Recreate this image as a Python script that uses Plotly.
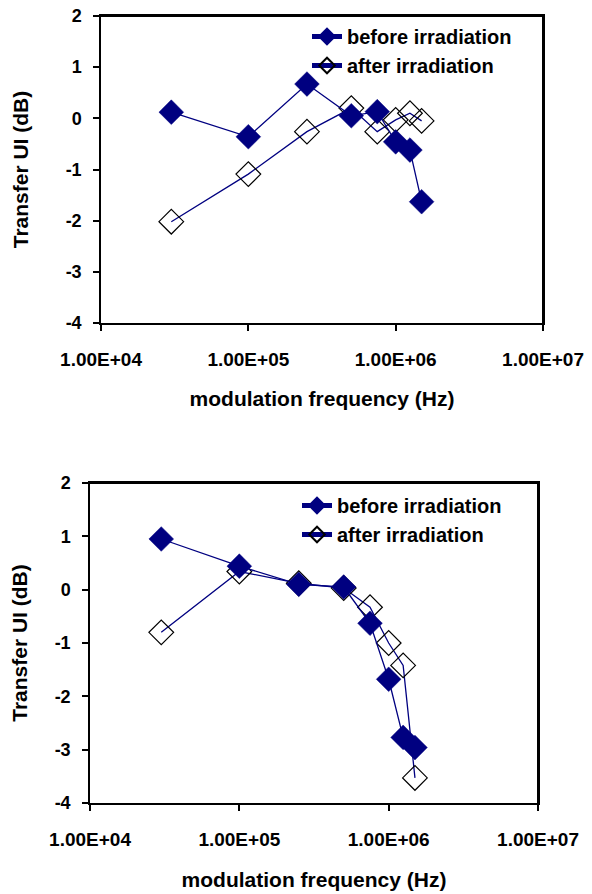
import plotly.graph_objects as go

# ---- data ----
freq = [3e4, 1e5, 2.5e5, 5e5, 7.5e5, 1e6, 1.25e6, 1.5e6]
top_before = [0.12, -0.36, 0.67, 0.05, 0.13, -0.46, -0.62, -1.63]
top_after = [-2.02, -1.09, -0.26, 0.2, -0.26, -0.03, 0.1, -0.05]
bot_before = [0.95, 0.44, 0.1, 0.05, -0.63, -1.68, -2.77, -2.96]
bot_after = [-0.8, 0.34, 0.12, 0.03, -0.33, -1.0, -1.42, -3.53]

x_tickvals = [1e4, 1e5, 1e6, 1e7]
x_ticktext = ["1.00E+04", "1.00E+05", "1.00E+06", "1.00E+07"]
y_tickvals = [2, 1, 0, -1, -2, -3, -4]
y_ticktext = ["2", "1", "0", "-1", "-2", "-3", "-4"]

series_names = ["before irradiation", "after irradiation"]
x_title = "modulation frequency (Hz)"
y_title = "Transfer UI (dB)"

NAVY = "#000080"
FONT = "Liberation Sans, Arial, sans-serif"
# page body has an 8px margin, so the figure is drawn 8px in from the window corner
OFF = 8
W, H = 592 - OFF, 894 - OFF

def fx(px):
    return (px - OFF) / W

def fy(py):
    return 1 - (py - OFF) / H

fig = go.Figure()

def add_pair(before, after, xa, ya, leg):
    fig.add_trace(go.Scatter(
        x=freq, y=after, mode="lines+markers", name=series_names[1],
        xaxis=xa, yaxis=ya, legend=leg, legendrank=2,
        line=dict(color=NAVY, width=1.3),
        marker=dict(symbol="diamond-open", size=19, color="black",
                    line=dict(color="black", width=1.2)),
    ))
    fig.add_trace(go.Scatter(
        x=freq, y=before, mode="lines+markers", name=series_names[0],
        xaxis=xa, yaxis=ya, legend=leg, legendrank=1,
        line=dict(color=NAVY, width=1.3),
        marker=dict(symbol="diamond", size=19, color=NAVY,
                    line=dict(color=NAVY, width=0.5)),
    ))

add_pair(top_before, top_after, "x", "y", "legend")
add_pair(bot_before, bot_after, "x2", "y2", "legend2")

def xax(domain, anchor, standoff):
    return dict(
        type="log", range=[4, 7], domain=domain, anchor=anchor,
        automargin=False,
        tickvals=x_tickvals, ticktext=x_ticktext,
        ticks="outside", ticklen=6, tickwidth=1.5, tickcolor="black",
        showline=True, linecolor="black", linewidth=1.5, mirror=True,
        showgrid=False, zeroline=False,
        ticklabelstandoff=12, ticklabeloverflow="allow",
        tickfont=dict(family=FONT, size=19, color="black", weight="bold"),
        title=dict(text=x_title, standoff=standoff,
                   font=dict(family=FONT, size=21, color="black", weight="bold")),
    )

def yax(domain, anchor, standoff):
    return dict(
        range=[-4, 2], domain=domain, anchor=anchor,
        automargin=False,
        tickvals=y_tickvals, ticktext=y_ticktext,
        ticks="outside", ticklen=6, tickwidth=1.5, tickcolor="black",
        showline=True, linecolor="black", linewidth=1.5, mirror=True,
        showgrid=False, zeroline=False,
        ticklabelstandoff=8, ticklabeloverflow="allow",
        tickfont=dict(family=FONT, size=18, color="black", weight="bold"),
        title=dict(text=y_title, standoff=standoff,
                   font=dict(family=FONT, size=21, color="black", weight="bold")),
    )

legfont = dict(family=FONT, size=20, color="black", weight="bold")

xdom1, ydom1 = [fx(101), fx(543)], [fy(323), fy(16)]
xdom2, ydom2 = [fx(90), fx(538)], [fy(803), fy(483)]

# plot-area frames: top and right edges, in paper coordinates (not clipped)
frames = []
for xd, yd in ((xdom1, ydom1), (xdom2, ydom2)):
    frames.append(dict(type="line", xref="paper", yref="paper",
                       x0=xd[0], x1=xd[1], y0=yd[1], y1=yd[1],
                       line=dict(color="black", width=2), layer="above"))
    frames.append(dict(type="line", xref="paper", yref="paper",
                       x0=xd[1], x1=xd[1], y0=yd[0], y1=yd[1],
                       line=dict(color="black", width=2), layer="above"))

fig.update_layout(
    width=W, height=H,
    margin=dict(l=0, r=0, t=0, b=0, autoexpand=False),
    paper_bgcolor="white", plot_bgcolor="white",
    xaxis=xax(xdom1, "y", 23),
    yaxis=yax(ydom1, "x", 31),
    xaxis2=xax(xdom2, "y2", 24),
    yaxis2=yax(ydom2, "x2", 33),
    legend=dict(x=299 / W, y=1 - 9 / H, xanchor="left", yanchor="top",
                bgcolor="rgba(0,0,0,0)", font=legfont, itemsizing="constant"),
    legend2=dict(x=289 / W, y=1 - 478 / H, xanchor="left", yanchor="top",
                 bgcolor="rgba(0,0,0,0)", font=legfont, itemsizing="constant"),
    shapes=frames,
    showlegend=True,
)

fig.write_html("out.html")
